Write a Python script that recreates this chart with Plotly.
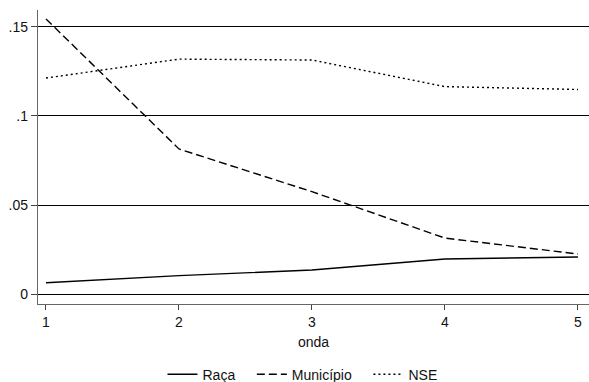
import plotly.graph_objects as go

# Waves and coefficients per grouping variable
ondas = [1, 2, 3, 4, 5]
raca = [0.0066, 0.0106, 0.0137, 0.0199, 0.0210]
municipio = [0.1543, 0.0815, 0.0576, 0.0316, 0.0227]
nse = [0.1212, 0.1318, 0.1313, 0.1164, 0.1148]

y_ticks = [0, 0.05, 0.1, 0.15]
y_tick_labels = ["0", ".05", ".1", ".15"]

pad = "\u00a0" * 3  # extra room between legend entries

fig = go.Figure()
fig.add_trace(go.Scatter(x=ondas, y=raca, name="Raça" + pad, mode="lines",
                         line=dict(color="black", width=1.4, dash="solid")))
fig.add_trace(go.Scatter(x=ondas, y=municipio, name="Município" + pad, mode="lines",
                         line=dict(color="black", width=1.4, dash="8px,4px")))
fig.add_trace(go.Scatter(x=ondas, y=nse, name="NSE", mode="lines",
                         line=dict(color="black", width=1.4, dash="2px,3px")))

font = dict(family="Liberation Sans, Arial, sans-serif", size=14, color="#111")

fig.update_layout(
    width=589, height=382,
    margin=dict(l=38, r=0, t=10, b=78, autoexpand=False),
    paper_bgcolor="white", plot_bgcolor="white",
    font=font,
    showlegend=True,
    legend=dict(orientation="h", x=0.48, xanchor="center",
                y=-0.186, yanchor="top",
                font=font, itemwidth=30, tracegroupgap=0),
    xaxis=dict(
        range=[0.94, 5.083], tickvals=ondas, ticks="outside", ticklen=5,
        tickcolor="#444", showgrid=False, zeroline=False,
        showline=True, linecolor="#666", linewidth=1.3,
        title=dict(text="onda", font=font, standoff=8),
    ),
    yaxis=dict(
        range=[-0.0053, 0.1593], tickvals=y_ticks, ticktext=y_tick_labels,
        ticks="outside", ticklen=6, tickcolor="#444",
        showgrid=True, gridcolor="black", gridwidth=1.2, zeroline=False,
        showline=True, linecolor="#666", linewidth=1.3,
    ),
)

fig.write_html("out.html")
